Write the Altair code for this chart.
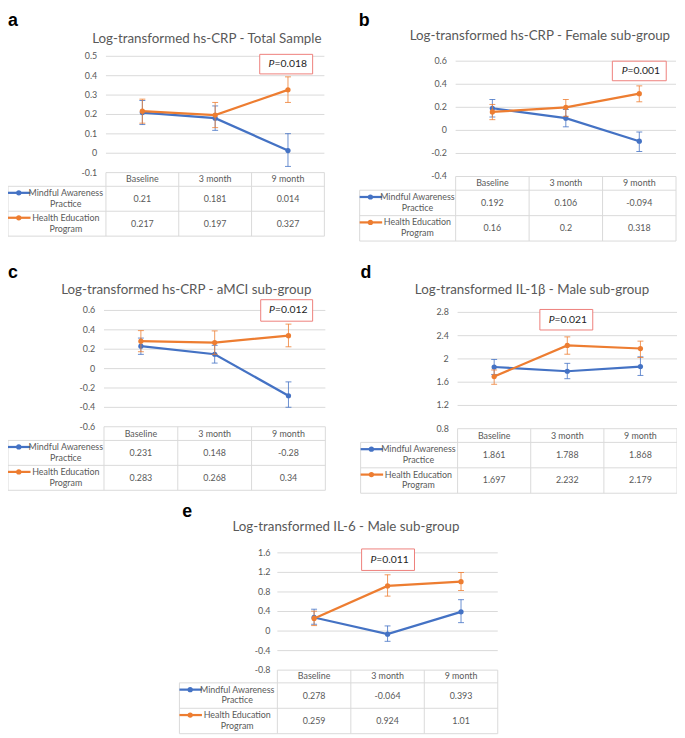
import altair as alt
import pandas as pd

# ---------------- data ----------------
categories = ["Baseline", "3 month", "9 month"]
series_names = ["Mindful Awareness Practice", "Health Education Program"]
series_legend = ["Mindful Awareness\nPractice", "Health Education\nProgram"]
series_colors = ["#4472C4", "#ED7D31"]

panel_ids = ["a", "b", "c", "d", "e"]
panel_titles = [
    "Log-transformed hs-CRP - Total Sample",
    "Log-transformed hs-CRP - Female sub-group",
    "Log-transformed hs-CRP - aMCI sub-group",
    "Log-transformed IL-1\u03b2 - Male sub-group",
    "Log-transformed IL-6 - Male sub-group",
]
p_values = ["0.018", "0.001", "0.012", "0.021", "0.011"]

# Mindful Awareness Practice (means)
map_a = [0.21, 0.181, 0.014]
map_b = [0.192, 0.106, -0.094]
map_c = [0.231, 0.148, -0.28]
map_d = [1.861, 1.788, 1.868]
map_e = [0.278, -0.064, 0.393]
# Health Education Program (means)
hep_a = [0.217, 0.197, 0.327]
hep_b = [0.16, 0.2, 0.318]
hep_c = [0.283, 0.268, 0.34]
hep_d = [1.697, 2.232, 2.179]
hep_e = [0.259, 0.924, 1.01]

# error bar ends
map_a_lo = [0.148, 0.118, -0.068]
map_a_hi = [0.272, 0.244, 0.101]
hep_a_lo = [0.155, 0.132, 0.262]
hep_a_hi = [0.279, 0.262, 0.394]
map_b_lo = [0.116, 0.031, -0.183]
map_b_hi = [0.268, 0.181, -0.014]
hep_b_lo = [0.093, 0.122, 0.248]
hep_b_hi = [0.225, 0.268, 0.386]
map_c_lo = [0.147, 0.057, -0.399]
map_c_hi = [0.315, 0.24, -0.137]
hep_c_lo = [0.174, 0.147, 0.225]
hep_c_hi = [0.392, 0.389, 0.459]
map_d_lo = [1.733, 1.66, 1.716]
map_d_hi = [1.991, 1.924, 2.036]
hep_d_lo = [1.564, 2.081, 2.025]
hep_d_hi = [1.81, 2.379, 2.306]
map_e_lo = [0.139, -0.21, 0.172]
map_e_hi = [0.447, 0.105, 0.642]
hep_e_lo = [0.112, 0.715, 0.829]
hep_e_hi = [0.407, 1.151, 1.198]

ticks_a = [-0.1, 0, 0.1, 0.2, 0.3, 0.4, 0.5]
ticks_b = [-0.4, -0.2, 0, 0.2, 0.4, 0.6]
ticks_c = [-0.6, -0.4, -0.2, 0, 0.2, 0.4, 0.6]
ticks_d = [0.8, 1.2, 1.6, 2, 2.4, 2.8]
ticks_e = [-0.8, -0.4, 0, 0.4, 0.8, 1.2, 1.6]

means_by = {"a": (map_a, hep_a), "b": (map_b, hep_b), "c": (map_c, hep_c),
            "d": (map_d, hep_d), "e": (map_e, hep_e)}
lo_by = {"a": (map_a_lo, hep_a_lo), "b": (map_b_lo, hep_b_lo), "c": (map_c_lo, hep_c_lo),
         "d": (map_d_lo, hep_d_lo), "e": (map_e_lo, hep_e_lo)}
hi_by = {"a": (map_a_hi, hep_a_hi), "b": (map_b_hi, hep_b_hi), "c": (map_c_hi, hep_c_hi),
         "d": (map_d_hi, hep_d_hi), "e": (map_e_hi, hep_e_hi)}
ticks_by = {"a": ticks_a, "b": ticks_b, "c": ticks_c, "d": ticks_d, "e": ticks_e}

rows = []
for pid in panel_ids:
    for s_i, s in enumerate(series_names):
        for c, m, l, h in zip(categories, means_by[pid][s_i], lo_by[pid][s_i], hi_by[pid][s_i]):
            rows.append(dict(panel=pid, series=s, cat=c, mean=m, lo=l, hi=h, label=f"{m:g}"))
df = pd.DataFrame(rows)

# ---------------- layout (reference pixel positions) ----------------
W, H = 677, 730
SX = W / 683.0
SY = H / 738.0


def px(x):
    return (x - 2) * SX


def py(y):
    return y * SY


FONT = "Lato"
TXT = "#595959"
GRID = "#D9D9D9"
PBOX = "#EE7F7B"

layout = {
    "a": dict(letter=(2, 14), title=(205, 31), xr=(102, 325), yr=(164, 45), lab=93, tl=2,
              rows=(164, 178, 203, 229), box=(259, 313, 43, 63)),
    "b": dict(letter=(360, 14), title=(545, 28), xr=(459, 684), yr=(168, 50), lab=450, tl=361,
              rows=(168, 182, 208, 234), box=(619, 674, 50, 70)),
    "c": dict(letter=(2, 272), title=(184, 288), xr=(100, 326), yr=(424, 305), lab=91, tl=2,
              rows=(424, 438, 463, 489), box=(260, 313, 294, 316)),
    "d": dict(letter=(362, 272), title=(537, 288), xr=(461, 685), yr=(426, 307), lab=452, tl=362,
              rows=(426, 440, 466, 492), box=(545, 599, 304, 325)),
    "e": dict(letter=(180, 516), title=(347, 531), xr=(277, 502), yr=(673, 553), lab=270, tl=177,
              rows=(673, 686, 712, 738), box=(363, 417, 549, 571)),
}

one = pd.DataFrame({"k": [0]})
header_df = pd.DataFrame({"cat": categories})
leg_df = pd.DataFrame({"series": series_names, "leg": series_legend})
color_scale = alt.Scale(domain=series_names, range=series_colors)

plot_charts, table_charts, ann_charts = [], [], []

for idx, pid in enumerate(panel_ids):
    L = layout[pid]
    ticks = ticks_by[pid]
    x0, x1 = L["xr"]
    r0, r1, r2, r3 = L["rows"]
    xs = alt.Scale(type="band", domain=categories, range=[px(x0), px(x1)],
                   paddingInner=0, paddingOuter=0)
    ys = alt.Scale(domain=[ticks[0], ticks[-1]], range=[py(L["yr"][0]), py(L["yr"][1])],
                   zero=False, nice=False)
    X = alt.X("cat:N", scale=xs, axis=None, bandPosition=0.5)

    tick_df = pd.DataFrame({"v": ticks, "lab": [f"{round(t, 2):g}" for t in ticks]})
    layers = [
        alt.Chart(tick_df).mark_rule(color=GRID, strokeWidth=1).encode(
            y=alt.Y("v:Q", scale=ys, axis=None),
            x=alt.value(px(x0)), x2=alt.value(px(x1))),
        alt.Chart(tick_df).mark_text(align="right", baseline="middle", font=FONT,
                                     fontSize=9, color=TXT).encode(
            y=alt.Y("v:Q", scale=ys, axis=None), x=alt.value(px(L["lab"])), text="lab:N"),
    ]
    for s_i, s in enumerate(series_names):
        d = df[(df.panel == pid) & (df.series == s)]
        col = series_colors[s_i]
        base = alt.Chart(d)
        layers += [
            base.mark_line(color=col, strokeWidth=2.25).encode(
                x=X, y=alt.Y("mean:Q", scale=ys, axis=None)),
            base.mark_rule(color=col, strokeWidth=1, opacity=0.8).encode(
                x=X, y=alt.Y("lo:Q", scale=ys, axis=None), y2="hi:Q"),
            base.mark_tick(color=col, size=6, thickness=1, opacity=0.8).encode(
                x=X, y=alt.Y("lo:Q", scale=ys, axis=None)),
            base.mark_tick(color=col, size=6, thickness=1, opacity=0.8).encode(
                x=X, y=alt.Y("hi:Q", scale=ys, axis=None)),
            base.mark_circle(color=col, size=28, opacity=1).encode(
                x=X, y=alt.Y("mean:Q", scale=ys, axis=None)),
        ]
    plot_charts.append(alt.layer(*layers))

    # ----- data table -----
    tab_y = alt.Scale(type="band", domain=series_names, range=[py(r1), py(r3)],
                      paddingInner=0, paddingOuter=0)
    TY = alt.Y("series:N", scale=tab_y, axis=None, bandPosition=0.5)
    tl = L["tl"]
    dtab = df[df.panel == pid]
    tlayers = [
        alt.Chart(header_df).mark_text(font=FONT, fontSize=9, color=TXT, baseline="middle").encode(
            x=X, y=alt.value(py((r0 + r1) / 2)), text="cat:N"),
        alt.Chart(dtab).mark_text(font=FONT, fontSize=9, color=TXT, baseline="middle").encode(
            x=X, y=TY, text="label:N"),
        alt.Chart(header_df).mark_rule(color=GRID, strokeWidth=1).encode(
            x=alt.X("cat:N", scale=xs, axis=None, bandPosition=0),
            y=alt.value(py(r0)), y2=alt.value(py(r3))),
        alt.Chart(header_df.tail(1)).mark_rule(color=GRID, strokeWidth=1).encode(
            x=alt.X("cat:N", scale=xs, axis=None, bandPosition=1),
            y=alt.value(py(r0)), y2=alt.value(py(r3))),
        alt.Chart(leg_df).mark_rule(color=GRID, strokeWidth=1).encode(
            y=alt.Y("series:N", scale=tab_y, axis=None, bandPosition=0),
            x=alt.value(px(tl)), x2=alt.value(px(x1))),
        alt.Chart(leg_df.tail(1)).mark_rule(color=GRID, strokeWidth=1).encode(
            y=alt.Y("series:N", scale=tab_y, axis=None, bandPosition=1),
            x=alt.value(px(tl)), x2=alt.value(px(x1))),
        alt.Chart(one).mark_rule(color=GRID, strokeWidth=1).encode(
            x=alt.value(px(tl)), y=alt.value(py(r1)), y2=alt.value(py(r3))),
        alt.Chart(leg_df).mark_rule(strokeWidth=2.25, yOffset=-6).encode(
            x=alt.value(px(tl)), x2=alt.value(px(tl + 23)), y=TY,
            color=alt.Color("series:N", scale=color_scale, legend=None)),
        alt.Chart(leg_df).mark_circle(size=28, opacity=1, yOffset=-6).encode(
            x=alt.value(px(tl + 11)), y=TY,
            color=alt.Color("series:N", scale=color_scale, legend=None)),
        alt.Chart(leg_df).mark_text(font=FONT, fontSize=9, color=TXT, align="center",
                                    baseline="middle", lineBreak="\n", lineHeight=11,
                                    dy=-6).encode(
            x=alt.value(px(tl + 59)), y=TY, text="leg:N"),
    ]
    table_charts.append(alt.layer(*tlayers))

    # ----- annotations -----
    tx, ty = L["title"]
    lx, ly = L["letter"]
    bx0, bx1, by0, by1 = L["box"]
    cx, cy = (bx0 + bx1) / 2, (by0 + by1) / 2
    ann_charts += [
        alt.Chart(one).mark_text(text=panel_titles[idx], font=FONT, fontSize=13.5, color=TXT,
                                 align="center", baseline="alphabetic").encode(
            x=alt.value(px(tx)), y=alt.value(py(ty))),
        alt.Chart(one).mark_text(text=pid, font="Liberation Sans", fontWeight="bold", fontSize=18,
                                 color="black", align="left", baseline="alphabetic").encode(
            x=alt.value(px(lx)), y=alt.value(py(ly))),
        alt.Chart(one).mark_rect(fill="white", stroke=PBOX, strokeWidth=1).encode(
            x=alt.value(px(bx0)), x2=alt.value(px(bx1)),
            y=alt.value(py(by0)), y2=alt.value(py(by1))),
        alt.Chart(one).mark_text(text="P", font=FONT, fontSize=10.5, fontStyle="italic",
                                 color="#222222", align="right", baseline="middle").encode(
            x=alt.value(px(cx - 12)), y=alt.value(py(cy))),
        alt.Chart(one).mark_text(text="=" + p_values[idx], font=FONT, fontSize=10.5,
                                 color="#222222", align="left", baseline="middle").encode(
            x=alt.value(px(cx - 12)), y=alt.value(py(cy))),
    ]

chart = alt.layer(*plot_charts, *table_charts, *ann_charts).resolve_scale(
    x="independent", y="independent", color="independent"
).properties(
    width=W, height=H, padding=0, autosize=alt.AutoSizeParams(type="none")
).configure_view(stroke=None)

chart.save("out.html", embed_options={"renderer": "svg", "actions": False})
